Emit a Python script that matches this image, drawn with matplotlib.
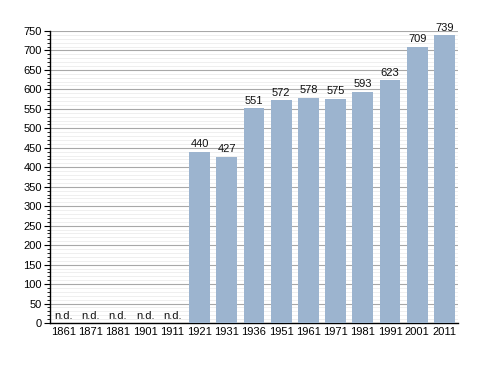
import matplotlib
matplotlib.use("Agg")
import matplotlib.pyplot as plt
from matplotlib.ticker import MultipleLocator

plt.rcParams["font.family"] = ["Liberation Sans", "DejaVu Sans"]

years = ["1861", "1871", "1881", "1901", "1911", "1921", "1931", "1936",
         "1951", "1961", "1971", "1981", "1991", "2001", "2011"]
values = [None, None, None, None, None, 440, 427, 551, 572, 578, 575, 593, 623, 709, 739]

fig = plt.figure(figsize=(4.88, 3.73), dpi=100)
ax = fig.add_axes([0.1025, 0.134, 0.836, 0.783])

x = list(range(len(years)))
bar_color = "#9cb4cf"
fs = 8
for i, v in zip(x, values):
    if v is None:
        ax.text(i, 4, "n.d.", ha="center", va="bottom", fontsize=fs, color="#111111")
    else:
        ax.bar(i, v, width=0.76, color=bar_color, zorder=3)
        ax.text(i, v + 7, str(v), ha="center", va="bottom", fontsize=fs, color="#111111", zorder=4)

ax.set_xlim(-0.5, len(years) - 0.5)
ax.set_ylim(0, 750)
ax.set_xticks(x)
ax.set_xticklabels(years, fontsize=fs)
ax.yaxis.set_major_locator(MultipleLocator(50))
ax.yaxis.set_minor_locator(MultipleLocator(10))
ax.tick_params(axis="y", which="major", labelsize=fs, length=4, width=0.8, direction="out", pad=2)
ax.tick_params(axis="y", which="minor", length=2, width=0.6, direction="out")
ax.tick_params(axis="x", length=0, pad=3)

ax.grid(axis="y", which="major", color="#a8a8a8", linewidth=0.8, zorder=0)
ax.grid(axis="y", which="minor", color="#ececec", linewidth=0.6, zorder=0)
ax.set_axisbelow(True)

for s in ["top", "right"]:
    ax.spines[s].set_visible(False)
ax.spines["left"].set_linewidth(1.0)
ax.spines["bottom"].set_linewidth(1.0)

fig.savefig("out.png", dpi=100)
